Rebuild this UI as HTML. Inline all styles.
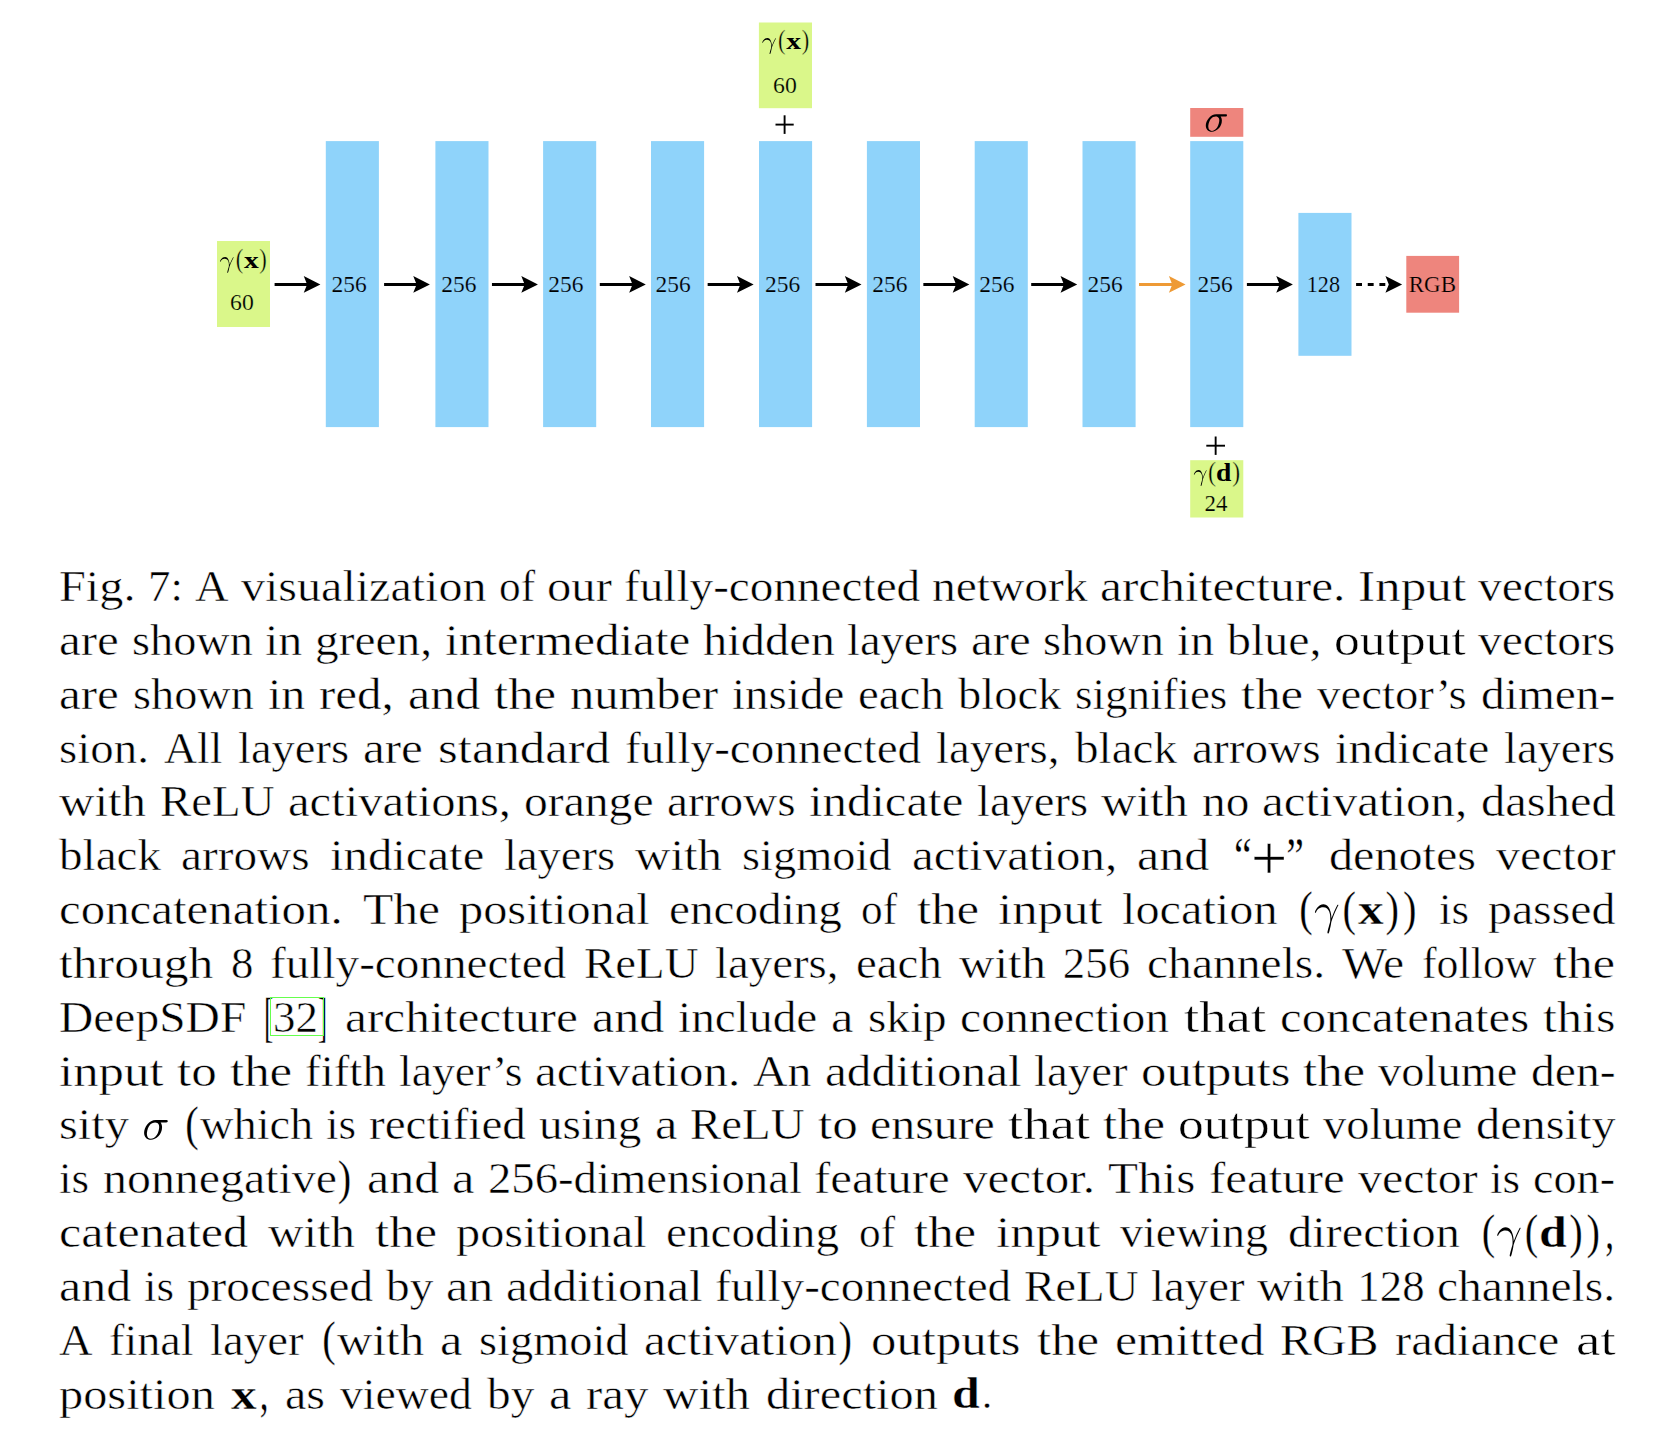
<!DOCTYPE html>
<html><head><meta charset="utf-8"><style>
html,body{margin:0;padding:0;background:#fff;width:1653px;height:1430px;overflow:hidden}
svg{position:absolute;left:0;top:0}
.w{position:absolute;font-family:"Liberation Serif",serif;font-size:44.8px;line-height:49.594px;white-space:pre;transform-origin:0 0;color:#000;-webkit-text-stroke:0.5px #fff}
.cite{position:absolute;left:269.9px;top:996.8px;width:54.2px;height:39.2px;box-sizing:border-box;border:1px solid #66ff4d}
</style></head><body>
<svg width="1653" height="1430" viewBox="0 0 1653 1430">
<rect x="217" y="241" width="53" height="86" fill="#daf78a"/>
<rect x="325.8" y="141.1" width="53.1" height="286" fill="#8fd3fa"/>
<rect x="435.4" y="141.1" width="53.1" height="286" fill="#8fd3fa"/>
<rect x="543.1" y="141.1" width="53.1" height="286" fill="#8fd3fa"/>
<rect x="651.0" y="141.1" width="53.1" height="286" fill="#8fd3fa"/>
<rect x="759.0" y="141.1" width="53.1" height="286" fill="#8fd3fa"/>
<rect x="866.9" y="141.1" width="53.1" height="286" fill="#8fd3fa"/>
<rect x="974.7" y="141.1" width="53.1" height="286" fill="#8fd3fa"/>
<rect x="1082.5" y="141.1" width="53.1" height="286" fill="#8fd3fa"/>
<rect x="1190.2" y="141.1" width="53.1" height="286" fill="#8fd3fa"/>
<rect x="1298.4" y="212.9" width="53.1" height="142.9" fill="#8fd3fa"/>
<rect x="1406.3" y="255.9" width="52.8" height="56.8" fill="#ee857d"/>
<rect x="1190.2" y="108" width="53.1" height="28.8" fill="#ee857d"/>
<rect x="758.9" y="22.5" width="53.1" height="85.7" fill="#daf78a"/>
<rect x="1190.2" y="460.2" width="53.1" height="57.3" fill="#daf78a"/>
<line x1="274.6" y1="284.4" x2="308.09999999999997" y2="284.4" stroke="#000" stroke-width="3"/><path d="M320.4,284.4 L303.75,276.04999999999995 L307.09999999999997,284.4 L303.75,292.75 Z" fill="#000"/>
<line x1="384.1" y1="284.4" x2="417.59999999999997" y2="284.4" stroke="#000" stroke-width="3"/><path d="M429.9,284.4 L413.25,276.04999999999995 L416.59999999999997,284.4 L413.25,292.75 Z" fill="#000"/>
<line x1="491.95000000000005" y1="284.4" x2="525.6500000000001" y2="284.4" stroke="#000" stroke-width="3"/><path d="M537.95,284.4 L521.3000000000001,276.04999999999995 L524.6500000000001,284.4 L521.3000000000001,292.75 Z" fill="#000"/>
<line x1="599.8" y1="284.4" x2="633.5" y2="284.4" stroke="#000" stroke-width="3"/><path d="M645.8,284.4 L629.15,276.04999999999995 L632.5,284.4 L629.15,292.75 Z" fill="#000"/>
<line x1="707.65" y1="284.4" x2="741.35" y2="284.4" stroke="#000" stroke-width="3"/><path d="M753.65,284.4 L737.0,276.04999999999995 L740.35,284.4 L737.0,292.75 Z" fill="#000"/>
<line x1="815.5" y1="284.4" x2="849.2" y2="284.4" stroke="#000" stroke-width="3"/><path d="M861.5,284.4 L844.85,276.04999999999995 L848.2,284.4 L844.85,292.75 Z" fill="#000"/>
<line x1="923.35" y1="284.4" x2="957.0500000000001" y2="284.4" stroke="#000" stroke-width="3"/><path d="M969.35,284.4 L952.7,276.04999999999995 L956.0500000000001,284.4 L952.7,292.75 Z" fill="#000"/>
<line x1="1031.1999999999998" y1="284.4" x2="1064.8999999999999" y2="284.4" stroke="#000" stroke-width="3"/><path d="M1077.1999999999998,284.4 L1060.5499999999997,276.04999999999995 L1063.8999999999999,284.4 L1060.5499999999997,292.75 Z" fill="#000"/>
<line x1="1139.05" y1="284.4" x2="1173.25" y2="284.4" stroke="#ee9a35" stroke-width="3"/><path d="M1185.55,284.4 L1168.8999999999999,276.04999999999995 L1172.25,284.4 L1168.8999999999999,292.75 Z" fill="#ee9a35"/>
<line x1="1246.9" y1="284.4" x2="1280.6000000000001" y2="284.4" stroke="#000" stroke-width="3"/><path d="M1292.9,284.4 L1276.25,276.04999999999995 L1279.6000000000001,284.4 L1276.25,292.75 Z" fill="#000"/>
<line x1="1356.1" y1="284.4" x2="1389.3" y2="284.4" stroke="#000" stroke-width="3" stroke-dasharray="5.9 5.75"/><path d="M1402.1,284.4 L1385.4499999999998,276.04999999999995 L1388.8,284.4 L1385.4499999999998,292.75 Z" fill="#000"/>
<line x1="775.5" y1="124.6" x2="793.7" y2="124.6" stroke="#000" stroke-width="1.9"/><line x1="784.6" y1="115.3" x2="784.6" y2="133.9" stroke="#000" stroke-width="1.9"/>
<line x1="1206.3000000000002" y1="445.7" x2="1225.0" y2="445.7" stroke="#000" stroke-width="1.9"/><line x1="1215.65" y1="436.5" x2="1215.65" y2="454.9" stroke="#000" stroke-width="1.9"/>
<text transform="translate(331.57,292.06) scale(0.974,1)" font-size="24.11" font-family="Liberation Serif"  stroke="#8fd3fa" stroke-width="0.2">256</text>
<text transform="translate(441.17,292.06) scale(0.974,1)" font-size="24.11" font-family="Liberation Serif"  stroke="#8fd3fa" stroke-width="0.2">256</text>
<text transform="translate(548.17,292.06) scale(0.974,1)" font-size="24.11" font-family="Liberation Serif"  stroke="#8fd3fa" stroke-width="0.2">256</text>
<text transform="translate(655.57,292.06) scale(0.974,1)" font-size="24.11" font-family="Liberation Serif"  stroke="#8fd3fa" stroke-width="0.2">256</text>
<text transform="translate(764.97,292.06) scale(0.974,1)" font-size="24.11" font-family="Liberation Serif"  stroke="#8fd3fa" stroke-width="0.2">256</text>
<text transform="translate(872.17,292.06) scale(0.974,1)" font-size="24.11" font-family="Liberation Serif"  stroke="#8fd3fa" stroke-width="0.2">256</text>
<text transform="translate(979.17,292.06) scale(0.974,1)" font-size="24.11" font-family="Liberation Serif"  stroke="#8fd3fa" stroke-width="0.2">256</text>
<text transform="translate(1087.47,292.06) scale(0.974,1)" font-size="24.11" font-family="Liberation Serif"  stroke="#8fd3fa" stroke-width="0.2">256</text>
<text transform="translate(1197.57,292.06) scale(0.974,1)" font-size="24.11" font-family="Liberation Serif"  stroke="#8fd3fa" stroke-width="0.2">256</text>
<text transform="translate(1306.75,291.97) scale(0.954,1)" font-size="23.27" font-family="Liberation Serif"  stroke="#8fd3fa" stroke-width="0.2">128</text>
<text transform="translate(1408.74,291.78) scale(1.010,1)" font-size="22.77" font-family="Liberation Serif"  stroke="#ee857d" stroke-width="0.2">RGB</text>
<path transform="translate(219.534,267.764) scale(0.02590,-0.02435)" d="M41 254C80 369 189 370 200 370C351 370 362 195 362 116C362 55 357 38 350 18C328 -55 298 -171 298 -197C298 -208 303 -215 311 -215C324 -215 332 -193 343 -155C366 -71 376 -14 380 17C382 30 384 43 388 56C420 155 484 304 524 383C531 395 543 417 543 421C543 431 533 431 531 431C528 431 522 431 519 424C467 329 427 229 387 128C386 159 385 235 346 332C322 393 282 442 213 442C88 442 18 290 18 259C18 249 27 249 37 249Z" fill="#000"/>
<text transform="translate(235.81,267.98) scale(0.826,1)" font-size="27.35" font-family="Liberation Serif"  stroke="#daf78a" stroke-width="0.35">(</text>
<text transform="translate(243.98,268.00) scale(1.244,1)" font-size="23.75" font-family="Liberation Serif" font-weight="bold" >x</text>
<text transform="translate(259.37,267.98) scale(0.826,1)" font-size="27.35" font-family="Liberation Serif"  stroke="#daf78a" stroke-width="0.35">)</text>
<text transform="translate(230.08,309.97) scale(0.994,1)" font-size="23.86" font-family="Liberation Serif"  stroke="#daf78a" stroke-width="0.2">60</text>
<path transform="translate(761.834,48.864) scale(0.02590,-0.02435)" d="M41 254C80 369 189 370 200 370C351 370 362 195 362 116C362 55 357 38 350 18C328 -55 298 -171 298 -197C298 -208 303 -215 311 -215C324 -215 332 -193 343 -155C366 -71 376 -14 380 17C382 30 384 43 388 56C420 155 484 304 524 383C531 395 543 417 543 421C543 431 533 431 531 431C528 431 522 431 519 424C467 329 427 229 387 128C386 159 385 235 346 332C322 393 282 442 213 442C88 442 18 290 18 259C18 249 27 249 37 249Z" fill="#000"/>
<text transform="translate(778.11,49.08) scale(0.826,1)" font-size="27.35" font-family="Liberation Serif"  stroke="#daf78a" stroke-width="0.35">(</text>
<text transform="translate(786.28,49.10) scale(1.244,1)" font-size="23.75" font-family="Liberation Serif" font-weight="bold" >x</text>
<text transform="translate(801.67,49.08) scale(0.826,1)" font-size="27.35" font-family="Liberation Serif"  stroke="#daf78a" stroke-width="0.35">)</text>
<text transform="translate(773.08,92.87) scale(0.994,1)" font-size="23.86" font-family="Liberation Serif"  stroke="#daf78a" stroke-width="0.2">60</text>
<path transform="translate(1193.465,480.831) scale(0.02419,-0.02451)" d="M41 254C80 369 189 370 200 370C351 370 362 195 362 116C362 55 357 38 350 18C328 -55 298 -171 298 -197C298 -208 303 -215 311 -215C324 -215 332 -193 343 -155C366 -71 376 -14 380 17C382 30 384 43 388 56C420 155 484 304 524 383C531 395 543 417 543 421C543 431 533 431 531 431C528 431 522 431 519 424C467 329 427 229 387 128C386 159 385 235 346 332C322 393 282 442 213 442C88 442 18 290 18 259C18 249 27 249 37 249Z" fill="#000"/>
<text transform="translate(1208.04,481.20) scale(0.918,1)" font-size="26.30" font-family="Liberation Serif"  stroke="#daf78a" stroke-width="0.35">(</text>
<text transform="translate(1215.98,480.86) scale(1.141,1)" font-size="24.16" font-family="Liberation Serif" font-weight="bold" >d</text>
<text transform="translate(1232.23,481.20) scale(0.903,1)" font-size="26.30" font-family="Liberation Serif"  stroke="#daf78a" stroke-width="0.35">)</text>
<text transform="translate(1204.49,510.90) scale(0.956,1)" font-size="24.01" font-family="Liberation Serif"  stroke="#daf78a" stroke-width="0.2">24</text>
<path transform="translate(1204.277,131.362) scale(0.04008,-0.03982)" d="M518 373C531 373 567 373 567 407C567 431 546 431 528 431H300C149 431 38 266 38 147C38 59 97 -11 188 -11C306 -11 439 110 439 264C439 281 439 329 408 373ZM189 11C140 11 100 47 100 119C100 149 112 231 147 290C189 359 249 373 283 373C367 373 375 307 375 276C375 229 355 147 321 96C282 37 228 11 189 11Z" fill="#000"/>
<text transform="translate(1234.12,873.79) scale(0.762,1)" font-size="52.16" font-family="Liberation Serif"  stroke="#fff" stroke-width="0.3">“</text>
<text transform="translate(1250.94,880.17) scale(1.000,1)" font-size="64.05" font-family="Liberation Serif"  stroke="#fff" stroke-width="0.3">+</text>
<text transform="translate(1286.24,873.69) scale(0.762,1)" font-size="52.16" font-family="Liberation Serif"  stroke="#fff" stroke-width="0.3">”</text>
<text transform="translate(1299.37,924.62) scale(0.819,1)" font-size="49.41" font-family="Liberation Serif"  stroke="#fff" stroke-width="0.3">(</text>
<path transform="translate(1314.098,923.940) scale(0.04480,-0.04480)" d="M41 254C80 369 189 370 200 370C351 370 362 195 362 116C362 55 357 38 350 18C328 -55 298 -171 298 -197C298 -208 303 -215 311 -215C324 -215 332 -193 343 -155C366 -71 376 -14 380 17C382 30 384 43 388 56C420 155 484 304 524 383C531 395 543 417 543 421C543 431 533 431 531 431C528 431 522 431 519 424C467 329 427 229 387 128C386 159 385 235 346 332C322 393 282 442 213 442C88 442 18 290 18 259C18 249 27 249 37 249Z" fill="#000"/>
<text transform="translate(1342.41,924.62) scale(0.819,1)" font-size="49.41" font-family="Liberation Serif"  stroke="#fff" stroke-width="0.3">(</text>
<text transform="translate(1357.92,923.94) scale(1.186,1)" font-size="43.34" font-family="Liberation Serif" font-weight="bold" stroke="#fff" stroke-width="0.4">x</text>
<text transform="translate(1385.53,924.62) scale(0.819,1)" font-size="49.41" font-family="Liberation Serif"  stroke="#fff" stroke-width="0.3">)</text>
<text transform="translate(1402.92,924.62) scale(0.819,1)" font-size="49.41" font-family="Liberation Serif"  stroke="#fff" stroke-width="0.3">)</text>
<text transform="translate(264.06,1035.58) scale(0.509,1)" font-size="54.13" font-family="Liberation Serif"  stroke="#fff" stroke-width="0.3">[</text>
<text transform="translate(318.09,1035.58) scale(0.509,1)" font-size="54.13" font-family="Liberation Serif"  stroke="#fff" stroke-width="0.3">]</text>
<path transform="translate(142.388,1139.300) scale(0.04480,-0.04480)" d="M518 373C531 373 567 373 567 407C567 431 546 431 528 431H300C149 431 38 266 38 147C38 59 97 -11 188 -11C306 -11 439 110 439 264C439 281 439 329 408 373ZM189 11C140 11 100 47 100 119C100 149 112 231 147 290C189 359 249 373 283 373C367 373 375 307 375 276C375 229 355 147 321 96C282 37 228 11 189 11Z" fill="#000"/>
<text transform="translate(185.25,1139.98) scale(0.819,1)" font-size="49.41" font-family="Liberation Serif"  stroke="#fff" stroke-width="0.3">(</text>
<text transform="translate(337.85,1193.82) scale(0.819,1)" font-size="49.41" font-family="Liberation Serif"  stroke="#fff" stroke-width="0.3">)</text>
<text transform="translate(1481.64,1247.66) scale(0.819,1)" font-size="49.41" font-family="Liberation Serif"  stroke="#fff" stroke-width="0.3">(</text>
<path transform="translate(1496.365,1246.980) scale(0.04480,-0.04480)" d="M41 254C80 369 189 370 200 370C351 370 362 195 362 116C362 55 357 38 350 18C328 -55 298 -171 298 -197C298 -208 303 -215 311 -215C324 -215 332 -193 343 -155C366 -71 376 -14 380 17C382 30 384 43 388 56C420 155 484 304 524 383C531 395 543 417 543 421C543 431 533 431 531 431C528 431 522 431 519 424C467 329 427 229 387 128C386 159 385 235 346 332C322 393 282 442 213 442C88 442 18 290 18 259C18 249 27 249 37 249Z" fill="#000"/>
<text transform="translate(1524.68,1247.66) scale(0.819,1)" font-size="49.41" font-family="Liberation Serif"  stroke="#fff" stroke-width="0.3">(</text>
<text transform="translate(1539.08,1246.81) scale(1.122,1)" font-size="44.57" font-family="Liberation Serif" font-weight="bold" stroke="#fff" stroke-width="0.4">d</text>
<text transform="translate(1569.23,1247.66) scale(0.819,1)" font-size="49.41" font-family="Liberation Serif"  stroke="#fff" stroke-width="0.3">)</text>
<text transform="translate(1586.62,1247.66) scale(0.819,1)" font-size="49.41" font-family="Liberation Serif"  stroke="#fff" stroke-width="0.3">)</text>
<text transform="translate(1605.26,1247.60) scale(0.675,1)" font-size="52.16" font-family="Liberation Serif"  stroke="#fff" stroke-width="0.3">,</text>
<text transform="translate(322.17,1355.34) scale(0.819,1)" font-size="49.41" font-family="Liberation Serif"  stroke="#fff" stroke-width="0.3">(</text>
<text transform="translate(838.55,1355.34) scale(0.819,1)" font-size="49.41" font-family="Liberation Serif"  stroke="#fff" stroke-width="0.3">)</text>
<text transform="translate(230.98,1408.50) scale(1.186,1)" font-size="43.34" font-family="Liberation Serif" font-weight="bold" stroke="#fff" stroke-width="0.4">x</text>
<text transform="translate(259.86,1409.12) scale(0.675,1)" font-size="52.16" font-family="Liberation Serif"  stroke="#fff" stroke-width="0.3">,</text>
<text transform="translate(952.00,1408.33) scale(1.122,1)" font-size="44.57" font-family="Liberation Serif" font-weight="bold" stroke="#fff" stroke-width="0.4">d</text>
<text transform="translate(982.11,1407.93) scale(1.000,1)" font-size="40.19" font-family="Liberation Serif"  stroke="#fff" stroke-width="0.3">.</text>
</svg>
<span class="w" style="left:59.45px;top:562.08px;transform:scaleX(1.0785)">Fig.</span>
<span class="w" style="left:148.18px;top:562.08px;transform:scaleX(0.9996)">7:</span>
<span class="w" style="left:195.21px;top:562.08px;transform:scaleX(1.0384)">A</span>
<span class="w" style="left:241.00px;top:562.08px;transform:scaleX(1.0721)">visualization</span>
<span class="w" style="left:498.56px;top:562.08px;transform:scaleX(0.9669)">of</span>
<span class="w" style="left:546.84px;top:562.08px;transform:scaleX(1.0858)">our</span>
<span class="w" style="left:623.86px;top:562.08px;transform:scaleX(1.0537)">fully-connected</span>
<span class="w" style="left:932.24px;top:562.08px;transform:scaleX(1.0604)">network</span>
<span class="w" style="left:1100.10px;top:562.08px;transform:scaleX(1.1025)">architecture.</span>
<span class="w" style="left:1357.69px;top:562.08px;transform:scaleX(1.1450)">Input</span>
<span class="w" style="left:1478.15px;top:562.08px;transform:scaleX(1.0609)">vectors</span>
<span class="w" style="left:59.45px;top:615.92px;transform:scaleX(1.0946)">are</span>
<span class="w" style="left:131.85px;top:615.92px;transform:scaleX(1.0339)">shown</span>
<span class="w" style="left:265.35px;top:615.92px;transform:scaleX(1.0711)">in</span>
<span class="w" style="left:315.24px;top:615.92px;transform:scaleX(1.0580)">green,</span>
<span class="w" style="left:444.84px;top:615.92px;transform:scaleX(1.0957)">intermediate</span>
<span class="w" style="left:702.67px;top:615.92px;transform:scaleX(1.0819)">hidden</span>
<span class="w" style="left:847.14px;top:615.92px;transform:scaleX(1.0392)">layers</span>
<span class="w" style="left:970.80px;top:615.92px;transform:scaleX(1.0946)">are</span>
<span class="w" style="left:1043.20px;top:615.92px;transform:scaleX(1.0339)">shown</span>
<span class="w" style="left:1176.70px;top:615.92px;transform:scaleX(1.0711)">in</span>
<span class="w" style="left:1226.58px;top:615.92px;transform:scaleX(1.0708)">blue,</span>
<span class="w" style="left:1333.71px;top:615.92px;transform:scaleX(1.1522)">output</span>
<span class="w" style="left:1478.14px;top:615.92px;transform:scaleX(1.0613)">vectors</span>
<span class="w" style="left:59.45px;top:669.76px;transform:scaleX(1.0946)">are</span>
<span class="w" style="left:133.20px;top:669.76px;transform:scaleX(1.0339)">shown</span>
<span class="w" style="left:268.00px;top:669.76px;transform:scaleX(1.0711)">in</span>
<span class="w" style="left:319.22px;top:669.76px;transform:scaleX(1.0934)">red,</span>
<span class="w" style="left:407.86px;top:669.76px;transform:scaleX(1.1159)">and</span>
<span class="w" style="left:493.94px;top:669.76px;transform:scaleX(1.1369)">the</span>
<span class="w" style="left:570.05px;top:669.76px;transform:scaleX(1.0831)">number</span>
<span class="w" style="left:732.11px;top:669.76px;transform:scaleX(1.0490)">inside</span>
<span class="w" style="left:858.25px;top:669.76px;transform:scaleX(1.0463)">each</span>
<span class="w" style="left:958.00px;top:669.76px;transform:scaleX(1.0378)">block</span>
<span class="w" style="left:1075.14px;top:669.76px;transform:scaleX(1.0034)">signifies</span>
<span class="w" style="left:1241.35px;top:669.76px;transform:scaleX(1.1369)">the</span>
<span class="w" style="left:1317.42px;top:669.76px;transform:scaleX(1.0438)">vector’s</span>
<span class="w" style="left:1481.01px;top:669.76px;transform:scaleX(1.0592)">dimen-</span>
<span class="w" style="left:59.45px;top:723.60px;transform:scaleX(1.0462)">sion.</span>
<span class="w" style="left:164.18px;top:723.60px;transform:scaleX(1.0217)">All</span>
<span class="w" style="left:237.50px;top:723.60px;transform:scaleX(1.0392)">layers</span>
<span class="w" style="left:363.49px;top:723.60px;transform:scaleX(1.0946)">are</span>
<span class="w" style="left:438.22px;top:723.60px;transform:scaleX(1.1341)">standard</span>
<span class="w" style="left:625.17px;top:723.60px;transform:scaleX(1.0537)">fully-connected</span>
<span class="w" style="left:936.24px;top:723.60px;transform:scaleX(1.0456)">layers,</span>
<span class="w" style="left:1074.67px;top:723.60px;transform:scaleX(1.0518)">black</span>
<span class="w" style="left:1191.59px;top:723.60px;transform:scaleX(1.0555)">arrows</span>
<span class="w" style="left:1335.13px;top:723.60px;transform:scaleX(1.0883)">indicate</span>
<span class="w" style="left:1504.28px;top:723.60px;transform:scaleX(1.0392)">layers</span>
<span class="w" style="left:59.45px;top:777.44px;transform:scaleX(1.0937)">with</span>
<span class="w" style="left:159.87px;top:777.44px;transform:scaleX(1.0457)">ReLU</span>
<span class="w" style="left:287.72px;top:777.44px;transform:scaleX(1.0864)">activations,</span>
<span class="w" style="left:524.06px;top:777.44px;transform:scaleX(1.0629)">orange</span>
<span class="w" style="left:666.92px;top:777.44px;transform:scaleX(1.0555)">arrows</span>
<span class="w" style="left:808.94px;top:777.44px;transform:scaleX(1.0883)">indicate</span>
<span class="w" style="left:976.57px;top:777.44px;transform:scaleX(1.0392)">layers</span>
<span class="w" style="left:1101.03px;top:777.44px;transform:scaleX(1.0937)">with</span>
<span class="w" style="left:1201.50px;top:777.44px;transform:scaleX(1.0557)">no</span>
<span class="w" style="left:1262.10px;top:777.44px;transform:scaleX(1.0932)">activation,</span>
<span class="w" style="left:1480.78px;top:777.44px;transform:scaleX(1.0824)">dashed</span>
<span class="w" style="left:59.45px;top:831.28px;transform:scaleX(1.0518)">black</span>
<span class="w" style="left:181.43px;top:831.28px;transform:scaleX(1.0555)">arrows</span>
<span class="w" style="left:330.04px;top:831.28px;transform:scaleX(1.0883)">indicate</span>
<span class="w" style="left:504.25px;top:831.28px;transform:scaleX(1.0392)">layers</span>
<span class="w" style="left:635.30px;top:831.28px;transform:scaleX(1.0937)">with</span>
<span class="w" style="left:742.35px;top:831.28px;transform:scaleX(1.0361)">sigmoid</span>
<span class="w" style="left:911.88px;top:831.28px;transform:scaleX(1.0932)">activation,</span>
<span class="w" style="left:1137.14px;top:831.28px;transform:scaleX(1.1159)">and</span>
<span class="w" style="left:1328.80px;top:831.28px;transform:scaleX(1.0749)">denotes</span>
<span class="w" style="left:1495.84px;top:831.28px;transform:scaleX(1.0683)">vector</span>
<span class="w" style="left:59.45px;top:885.12px;transform:scaleX(1.0915)">concatenation.</span>
<span class="w" style="left:362.51px;top:885.12px;transform:scaleX(1.1077)">The</span>
<span class="w" style="left:458.97px;top:885.12px;transform:scaleX(1.0788)">positional</span>
<span class="w" style="left:668.91px;top:885.12px;transform:scaleX(1.0532)">encoding</span>
<span class="w" style="left:861.17px;top:885.12px;transform:scaleX(0.9669)">of</span>
<span class="w" style="left:916.53px;top:885.12px;transform:scaleX(1.1369)">the</span>
<span class="w" style="left:998.07px;top:885.12px;transform:scaleX(1.1352)">input</span>
<span class="w" style="left:1121.88px;top:885.12px;transform:scaleX(1.0780)">location</span>
<span class="w" style="left:1438.57px;top:885.12px;transform:scaleX(1.0075)">is</span>
<span class="w" style="left:1487.99px;top:885.12px;transform:scaleX(1.0670)">passed</span>
<span class="w" style="left:59.45px;top:938.96px;transform:scaleX(1.1083)">through</span>
<span class="w" style="left:230.92px;top:938.96px;transform:scaleX(0.9998)">8</span>
<span class="w" style="left:270.39px;top:938.96px;transform:scaleX(1.0537)">fully-connected</span>
<span class="w" style="left:583.61px;top:938.96px;transform:scaleX(1.0457)">ReLU</span>
<span class="w" style="left:715.17px;top:938.96px;transform:scaleX(1.0456)">layers,</span>
<span class="w" style="left:855.80px;top:938.96px;transform:scaleX(1.0463)">each</span>
<span class="w" style="left:958.69px;top:938.96px;transform:scaleX(1.0937)">with</span>
<span class="w" style="left:1062.87px;top:938.96px;transform:scaleX(1.0000)">256</span>
<span class="w" style="left:1147.10px;top:938.96px;transform:scaleX(1.0614)">channels.</span>
<span class="w" style="left:1342.37px;top:938.96px;transform:scaleX(1.0625)">We</span>
<span class="w" style="left:1421.68px;top:938.96px;transform:scaleX(0.9788)">follow</span>
<span class="w" style="left:1553.19px;top:938.96px;transform:scaleX(1.1369)">the</span>
<span class="w" style="left:59.45px;top:992.80px;transform:scaleX(1.0600)">DeepSDF</span>
<span class="w" style="left:273.23px;top:992.80px;transform:scaleX(1.0017)">32</span>
<span class="w" style="left:344.58px;top:992.80px;transform:scaleX(1.1020)">architecture</span>
<span class="w" style="left:591.61px;top:992.80px;transform:scaleX(1.1159)">and</span>
<span class="w" style="left:677.81px;top:992.80px;transform:scaleX(1.0571)">include</span>
<span class="w" style="left:831.27px;top:992.80px;transform:scaleX(1.1262)">a</span>
<span class="w" style="left:867.74px;top:992.80px;transform:scaleX(1.0531)">skip</span>
<span class="w" style="left:960.46px;top:992.80px;transform:scaleX(1.0637)">connection</span>
<span class="w" style="left:1183.60px;top:992.80px;transform:scaleX(1.2225)">that</span>
<span class="w" style="left:1279.77px;top:992.80px;transform:scaleX(1.0890)">concatenates</span>
<span class="w" style="left:1542.98px;top:992.80px;transform:scaleX(1.1189)">this</span>
<span class="w" style="left:59.45px;top:1046.64px;transform:scaleX(1.1352)">input</span>
<span class="w" style="left:176.90px;top:1046.64px;transform:scaleX(1.1424)">to</span>
<span class="w" style="left:229.67px;top:1046.64px;transform:scaleX(1.1369)">the</span>
<span class="w" style="left:304.84px;top:1046.64px;transform:scaleX(1.0487)">fifth</span>
<span class="w" style="left:398.64px;top:1046.64px;transform:scaleX(1.0205)">layer’s</span>
<span class="w" style="left:535.15px;top:1046.64px;transform:scaleX(1.0932)">activation.</span>
<span class="w" style="left:753.43px;top:1046.64px;transform:scaleX(1.0684)">An</span>
<span class="w" style="left:824.87px;top:1046.64px;transform:scaleX(1.0976)">additional</span>
<span class="w" style="left:1034.41px;top:1046.64px;transform:scaleX(1.0442)">layer</span>
<span class="w" style="left:1140.80px;top:1046.64px;transform:scaleX(1.1340)">outputs</span>
<span class="w" style="left:1303.34px;top:1046.64px;transform:scaleX(1.1369)">the</span>
<span class="w" style="left:1378.47px;top:1046.64px;transform:scaleX(1.0375)">volume</span>
<span class="w" style="left:1530.79px;top:1046.64px;transform:scaleX(1.0630)">den-</span>
<span class="w" style="left:59.45px;top:1100.48px;transform:scaleX(1.0803)">sity</span>
<span class="w" style="left:199.98px;top:1100.48px;transform:scaleX(1.0347)">which</span>
<span class="w" style="left:326.25px;top:1100.48px;transform:scaleX(1.0075)">is</span>
<span class="w" style="left:369.36px;top:1100.48px;transform:scaleX(1.0516)">rectified</span>
<span class="w" style="left:539.33px;top:1100.48px;transform:scaleX(1.0533)">using</span>
<span class="w" style="left:654.62px;top:1100.48px;transform:scaleX(1.1262)">a</span>
<span class="w" style="left:690.02px;top:1100.48px;transform:scaleX(1.0457)">ReLU</span>
<span class="w" style="left:817.50px;top:1100.48px;transform:scaleX(1.1424)">to</span>
<span class="w" style="left:870.32px;top:1100.48px;transform:scaleX(1.0676)">ensure</span>
<span class="w" style="left:1008.13px;top:1100.48px;transform:scaleX(1.2225)">that</span>
<span class="w" style="left:1103.26px;top:1100.48px;transform:scaleX(1.1369)">the</span>
<span class="w" style="left:1178.48px;top:1100.48px;transform:scaleX(1.1522)">output</span>
<span class="w" style="left:1323.40px;top:1100.48px;transform:scaleX(1.0372)">volume</span>
<span class="w" style="left:1475.81px;top:1100.48px;transform:scaleX(1.0790)">density</span>
<span class="w" style="left:59.45px;top:1154.32px;transform:scaleX(1.0075)">is</span>
<span class="w" style="left:102.60px;top:1154.32px;transform:scaleX(1.0688)">nonnegative</span>
<span class="w" style="left:366.98px;top:1154.32px;transform:scaleX(1.1159)">and</span>
<span class="w" style="left:452.20px;top:1154.32px;transform:scaleX(1.1262)">a</span>
<span class="w" style="left:487.59px;top:1154.32px;transform:scaleX(1.0424)">256-dimensional</span>
<span class="w" style="left:814.49px;top:1154.32px;transform:scaleX(1.0919)">feature</span>
<span class="w" style="left:963.31px;top:1154.32px;transform:scaleX(1.0943)">vector.</span>
<span class="w" style="left:1108.38px;top:1154.32px;transform:scaleX(1.0968)">This</span>
<span class="w" style="left:1208.73px;top:1154.32px;transform:scaleX(1.0919)">feature</span>
<span class="w" style="left:1357.55px;top:1154.32px;transform:scaleX(1.0683)">vector</span>
<span class="w" style="left:1490.17px;top:1154.32px;transform:scaleX(1.0075)">is</span>
<span class="w" style="left:1533.28px;top:1154.32px;transform:scaleX(1.0317)">con-</span>
<span class="w" style="left:59.45px;top:1208.16px;transform:scaleX(1.1186)">catenated</span>
<span class="w" style="left:268.06px;top:1208.16px;transform:scaleX(1.0937)">with</span>
<span class="w" style="left:374.66px;top:1208.16px;transform:scaleX(1.1369)">the</span>
<span class="w" style="left:456.33px;top:1208.16px;transform:scaleX(1.0791)">positional</span>
<span class="w" style="left:666.45px;top:1208.16px;transform:scaleX(1.0535)">encoding</span>
<span class="w" style="left:858.89px;top:1208.16px;transform:scaleX(0.9669)">of</span>
<span class="w" style="left:914.43px;top:1208.16px;transform:scaleX(1.1369)">the</span>
<span class="w" style="left:996.09px;top:1208.16px;transform:scaleX(1.1352)">input</span>
<span class="w" style="left:1120.08px;top:1208.16px;transform:scaleX(1.0261)">viewing</span>
<span class="w" style="left:1287.67px;top:1208.16px;transform:scaleX(1.0795)">direction</span>
<span class="w" style="left:59.45px;top:1262.00px;transform:scaleX(1.1159)">and</span>
<span class="w" style="left:144.31px;top:1262.00px;transform:scaleX(1.0075)">is</span>
<span class="w" style="left:187.15px;top:1262.00px;transform:scaleX(1.0533)">processed</span>
<span class="w" style="left:385.89px;top:1262.00px;transform:scaleX(1.0565)">by</span>
<span class="w" style="left:445.90px;top:1262.00px;transform:scaleX(1.1181)">an</span>
<span class="w" style="left:505.91px;top:1262.00px;transform:scaleX(1.0976)">additional</span>
<span class="w" style="left:715.23px;top:1262.00px;transform:scaleX(1.0537)">fully-connected</span>
<span class="w" style="left:1024.15px;top:1262.00px;transform:scaleX(1.0457)">ReLU</span>
<span class="w" style="left:1151.32px;top:1262.00px;transform:scaleX(1.0442)">layer</span>
<span class="w" style="left:1257.49px;top:1262.00px;transform:scaleX(1.0937)">with</span>
<span class="w" style="left:1357.33px;top:1262.00px;transform:scaleX(1.0000)">128</span>
<span class="w" style="left:1437.21px;top:1262.00px;transform:scaleX(1.0611)">channels.</span>
<span class="w" style="left:59.45px;top:1315.84px;transform:scaleX(1.0384)">A</span>
<span class="w" style="left:109.18px;top:1315.84px;transform:scaleX(1.0309)">final</span>
<span class="w" style="left:209.89px;top:1315.84px;transform:scaleX(1.0442)">layer</span>
<span class="w" style="left:336.89px;top:1315.84px;transform:scaleX(1.0942)">with</span>
<span class="w" style="left:440.14px;top:1315.84px;transform:scaleX(1.1262)">a</span>
<span class="w" style="left:478.67px;top:1315.84px;transform:scaleX(1.0361)">sigmoid</span>
<span class="w" style="left:644.38px;top:1315.84px;transform:scaleX(1.0922)">activation</span>
<span class="w" style="left:870.82px;top:1315.84px;transform:scaleX(1.1340)">outputs</span>
<span class="w" style="left:1036.54px;top:1315.84px;transform:scaleX(1.1369)">the</span>
<span class="w" style="left:1114.89px;top:1315.84px;transform:scaleX(1.1115)">emitted</span>
<span class="w" style="left:1280.36px;top:1315.84px;transform:scaleX(1.0706)">RGB</span>
<span class="w" style="left:1395.10px;top:1315.84px;transform:scaleX(1.0837)">radiance</span>
<span class="w" style="left:1575.58px;top:1315.84px;transform:scaleX(1.2313)">at</span>
<span class="w" style="left:59.45px;top:1369.68px;transform:scaleX(1.0793)">position</span>
<span class="w" style="left:284.75px;top:1369.68px;transform:scaleX(1.0735)">as</span>
<span class="w" style="left:339.79px;top:1369.68px;transform:scaleX(1.0196)">viewed</span>
<span class="w" style="left:486.61px;top:1369.68px;transform:scaleX(1.0555)">by</span>
<span class="w" style="left:548.86px;top:1369.68px;transform:scaleX(1.1262)">a</span>
<span class="w" style="left:586.18px;top:1369.68px;transform:scaleX(1.0898)">ray</span>
<span class="w" style="left:663.49px;top:1369.68px;transform:scaleX(1.0937)">with</span>
<span class="w" style="left:765.52px;top:1369.68px;transform:scaleX(1.0795)">direction</span>
<div class="cite"></div>
</body></html>
